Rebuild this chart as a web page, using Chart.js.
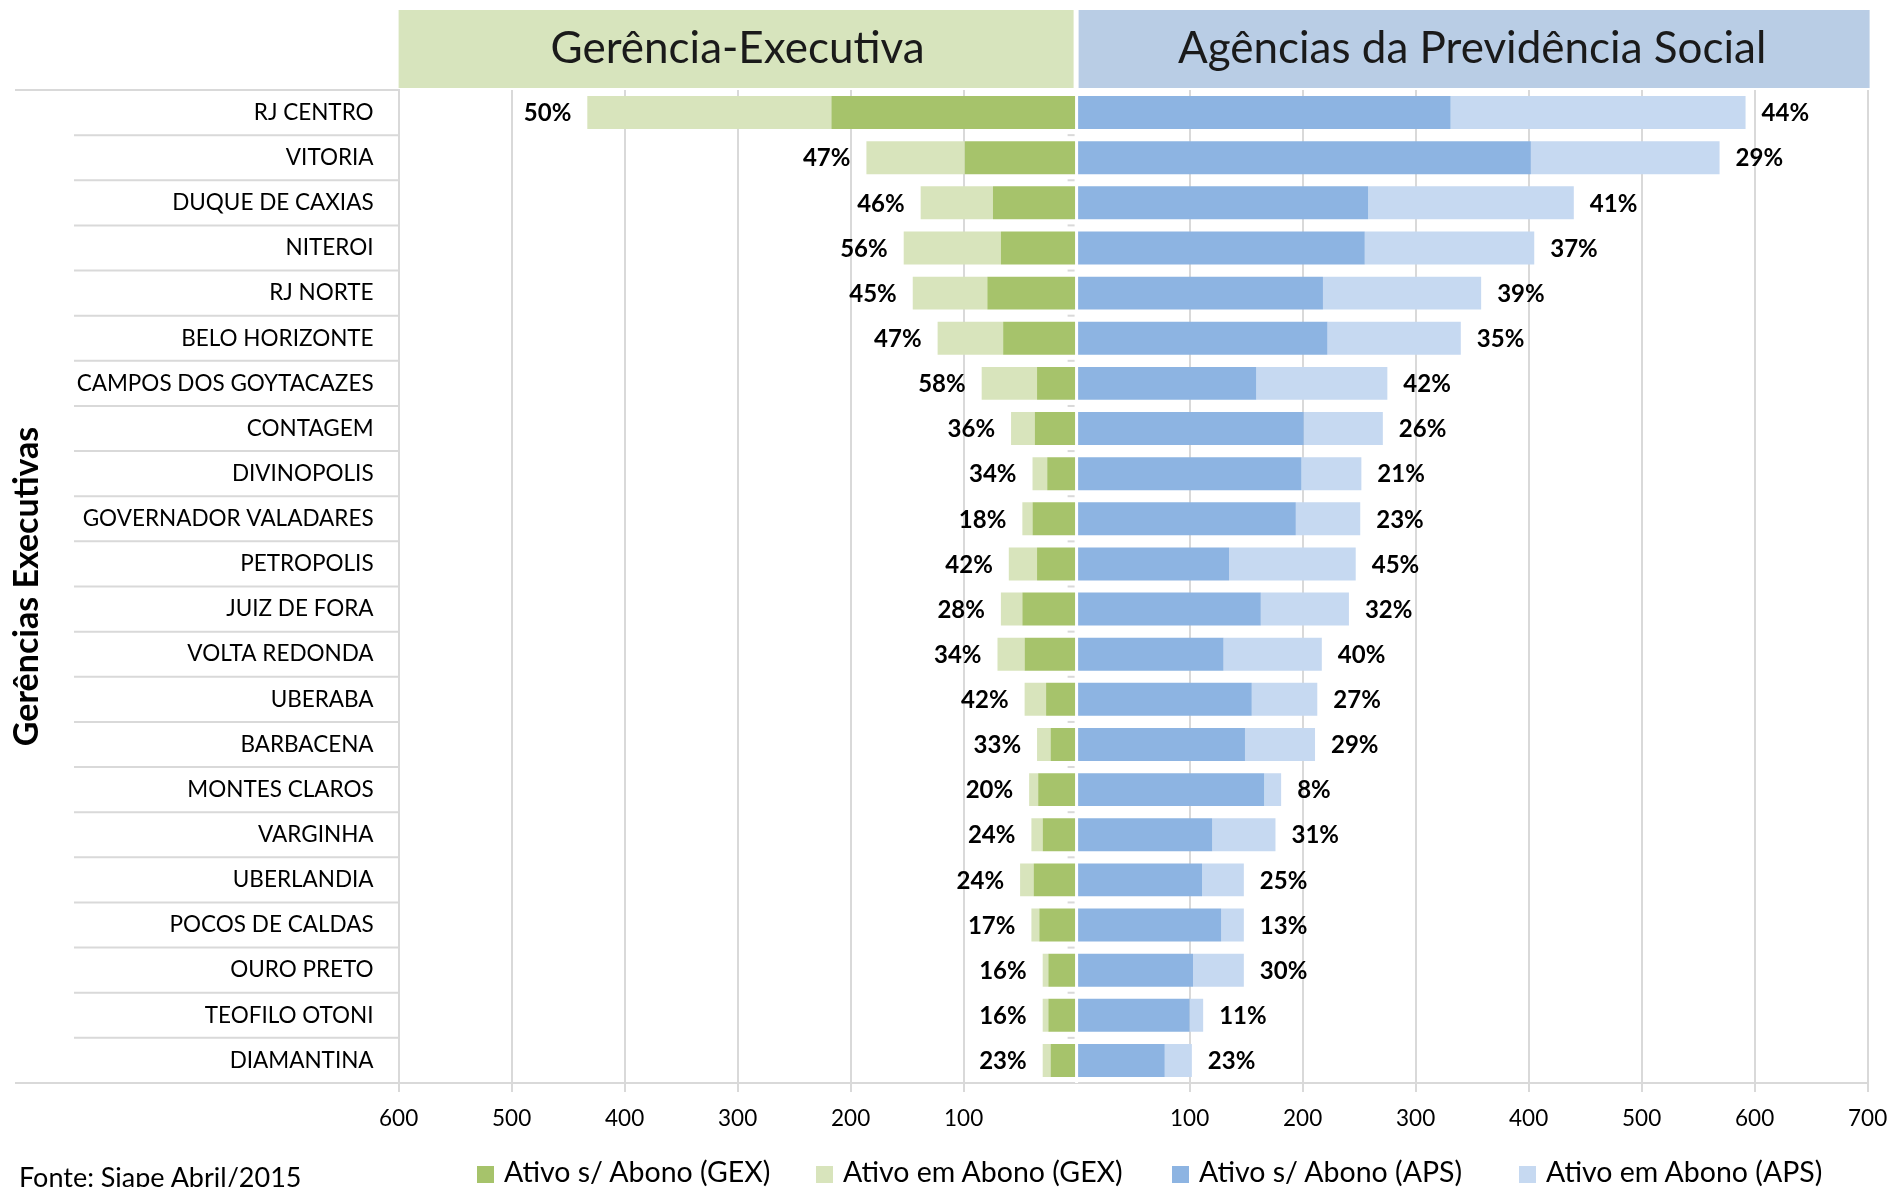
<!DOCTYPE html>
<html>
<head>
<meta charset="utf-8">
<script src="https://cdn.jsdelivr.net/npm/chart.js@4.4.1/dist/chart.umd.min.js"></script>
<style>
    html, body { margin: 0; padding: 0; background: #fff; }
    #wrap { position: relative; width: 1895px; height: 1187px; overflow: hidden; font-family: Lato, sans-serif; }
    .item { position: absolute; top: 1155px; height: 32px; line-height: 32px; font-size: 28.5px; color: #000; white-space: nowrap; }
    .item .box { display: inline-block; width: 17px; height: 17px; margin-right: 10px; vertical-align: -1px; }
    #fonte { position: absolute; left: 19px; top: 1161px; font-size: 27px; line-height: 32px; color: #000; }
</style>
</head>
<body>
<div id="wrap">
    <canvas id="grafico"></canvas>
    <div class="item" style="left:477px"><span class="box" style="background:#a6c36b"></span>Ativo s/ Abono (GEX)</div>
    <div class="item" style="left:816px"><span class="box" style="background:#d8e4bc"></span>Ativo em Abono (GEX)</div>
    <div class="item" style="left:1172px"><span class="box" style="background:#8db4e2"></span>Ativo s/ Abono (APS)</div>
    <div class="item" style="left:1519px"><span class="box" style="background:#c6d9f1"></span>Ativo em Abono (APS)</div>
    <div id="fonte">Fonte: Siape Abril/2015</div>
</div>
<script>
var categorias = ['RJ CENTRO', 'VITORIA', 'DUQUE DE CAXIAS', 'NITEROI', 'RJ NORTE', 'BELO HORIZONTE',
    'CAMPOS DOS GOYTACAZES', 'CONTAGEM', 'DIVINOPOLIS', 'GOVERNADOR VALADARES', 'PETROPOLIS',
    'JUIZ DE FORA', 'VOLTA REDONDA', 'UBERABA', 'BARBACENA', 'MONTES CLAROS', 'VARGINHA',
    'UBERLANDIA', 'POCOS DE CALDAS', 'OURO PRETO', 'TEOFILO OTONI', 'DIAMANTINA'];

// servidores na Gerencia-Executiva
var gexSemAbono = [217, 99, 74, 67, 79, 65, 35, 37, 26, 39, 35, 48, 46, 27, 23, 34, 30, 38, 33, 25, 25, 23];
var gexEmAbono  = [216, 87, 64, 86, 66, 58, 49, 21, 13, 9, 25, 19, 24, 19, 12, 8, 10, 12, 7, 5, 5, 7];
// servidores nas Agencias da Previdencia Social
var apsSemAbono = [331, 402, 258, 255, 218, 222, 159, 201, 199, 194, 135, 163, 130, 155, 149, 166, 120, 111, 128, 103, 100, 78];
var apsEmAbono  = [261, 167, 182, 150, 140, 118, 116, 70, 53, 57, 112, 78, 87, 58, 62, 15, 56, 37, 20, 45, 12, 24];

// percentual em abono, como aparece nos rotulos
var pctGex = [50, 47, 46, 56, 45, 47, 58, 36, 34, 18, 42, 28, 34, 42, 33, 20, 24, 24, 17, 16, 16, 23];
var pctAps = [44, 29, 41, 37, 39, 35, 42, 26, 21, 23, 45, 32, 40, 27, 29, 8, 31, 25, 13, 30, 11, 23];

var maxGex = 600;
var maxAps = 700;

var cinza = '#d9d9d9';

var cabecalhos = {
    id: 'cabecalhos',
    beforeDraw: function (chart) {
        var c = chart.ctx, xl = chart.scales.xL, xr = chart.scales.xR;
        c.save();
        c.fillStyle = '#d7e4bd';
        c.fillRect(xl.left, 10, xl.right - xl.left - 3, 78);
        c.fillStyle = '#b9cde5';
        c.fillRect(xr.left + 2, 10, xr.right - xr.left, 78);
        c.fillStyle = '#1a1a1a';
        c.font = '44px Lato';
        c.textAlign = 'center';
        c.textBaseline = 'middle';
        c.fillText('Gerência-Executiva', (xl.left + xl.right) / 2, 49);
        c.fillText('Agências da Previdência Social', (xr.left + xr.right) / 2, 49);
        c.restore();
    }
};

var rotulos = {
    id: 'rotulos',
    afterDatasetsDraw: function (chart) {
        var c = chart.ctx, area = chart.chartArea;
        var y = chart.scales.y;
        var zero = chart.scales.xR.getPixelForValue(0);
        c.save();
        // separacao branca entre os dois lados
        c.fillStyle = '#fff';
        c.fillRect(zero - 1.5, area.top, 3, area.bottom - area.top);
        // linhas entre categorias na area dos nomes
        c.strokeStyle = cinza;
        c.lineWidth = 2;
        for (var i = 0; i <= categorias.length; i++) {
            var py = y.getPixelForValue(i - 0.5);
            var x0 = (i === 0 || i === categorias.length) ? 15 : 74;
            c.beginPath();
            c.moveTo(x0, py);
            c.lineTo(area.left, py);
            c.stroke();
            if (i > 0 && i < categorias.length) {
                c.beginPath();
                c.moveTo(zero - 9, py);
                c.lineTo(zero - 2, py);
                c.stroke();
            }
        }
        // percentuais
        var gex = chart.getDatasetMeta(1).data;
        var aps = chart.getDatasetMeta(3).data;
        c.fillStyle = '#000';
        c.font = 'bold 24px Lato';
        c.textBaseline = 'middle';
        for (var j = 0; j < categorias.length; j++) {
            c.textAlign = 'right';
            c.fillText(pctGex[j] + '%', gex[j].x - 16, gex[j].y + 1);
            c.textAlign = 'left';
            c.fillText(pctAps[j] + '%', aps[j].x + 16, aps[j].y + 1);
        }
        c.restore();
    }
};

function gradeX(ctx) {
    return ctx.tick && ctx.tick.value === 0 ? 'rgba(0,0,0,0)' : cinza;
}

function eixoX(max) {
    return {
        stacked: true,
        position: 'bottom',
        stack: 'base',
        stackWeight: max,
        min: 0,
        max: max,
        grid: { color: gradeX, lineWidth: 2, tickLength: 9 },
        border: { display: true, color: cinza, width: 2 },
        ticks: {
            stepSize: 100,
            padding: 13,
            color: '#000',
            font: { family: 'Lato', size: 22.5 },
            callback: function (v) { return v === 0 ? '' : v; }
        },
        afterFit: function (s) {
            s.height = 50;
            s.paddingLeft = 0;
            s.paddingRight = 0;
        }
    };
}

var escalaGex = eixoX(maxGex);
escalaGex.reverse = true;
var escalaAps = eixoX(maxAps);

new Chart(document.getElementById('grafico'), {
    type: 'bar',
    data: {
        labels: categorias,
        datasets: [
            { label: 'Ativo s/ Abono (GEX)', data: gexSemAbono, backgroundColor: '#a6c36b', xAxisID: 'xL', stack: 'todos' },
            { label: 'Ativo em Abono (GEX)', data: gexEmAbono, backgroundColor: '#d8e4bc', xAxisID: 'xL', stack: 'todos' },
            { label: 'Ativo s/ Abono (APS)', data: apsSemAbono, backgroundColor: '#8db4e2', xAxisID: 'xR', stack: 'todos' },
            { label: 'Ativo em Abono (APS)', data: apsEmAbono, backgroundColor: '#c6d9f1', xAxisID: 'xR', stack: 'todos' }
        ]
    },
    options: {
        indexAxis: 'y',
        responsive: true,
        maintainAspectRatio: false,
        animation: false,
        barPercentage: 0.73,
        categoryPercentage: 1,
        layout: { padding: { left: 3, top: 90, right: 27.4, bottom: 54 } },
        plugins: {
            legend: { display: false },
            tooltip: { enabled: false }
        },
        scales: {
            xL: escalaGex,
            xR: escalaAps,
            y: {
                stacked: true,
                grid: { display: false, drawTicks: false },
                border: { display: true, color: cinza, width: 2 },
                ticks: {
                    autoSkip: false,
                    padding: 25,
                    color: '#000',
                    font: { family: 'Lato', size: 22.5 }
                },
                title: {
                    display: true,
                    text: 'Gerências Executivas',
                    color: '#000',
                    font: { family: 'Lato', size: 34, weight: 'bold' },
                    padding: { top: 4, bottom: 4 }
                },
                afterFit: function (s) { s.width = 395.6; }
            }
        }
    },
    plugins: [cabecalhos, rotulos]
});
</script>
</body>
</html>
